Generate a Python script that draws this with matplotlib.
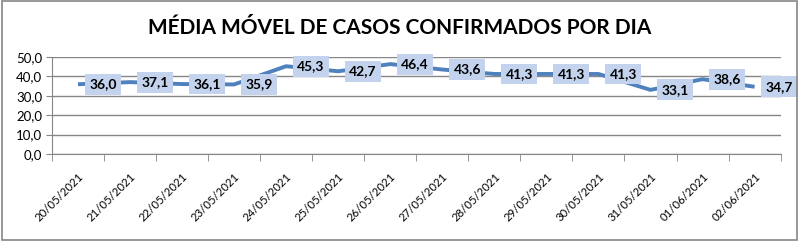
import matplotlib
matplotlib.use('Agg')
import matplotlib.pyplot as plt
from matplotlib.patches import Rectangle

plt.rcParams['font.family'] = ['Lato', 'DejaVu Sans']

dates = ['20/05/2021', '21/05/2021', '22/05/2021', '23/05/2021', '24/05/2021',
         '25/05/2021', '26/05/2021', '27/05/2021', '28/05/2021', '29/05/2021',
         '30/05/2021', '31/05/2021', '01/06/2021', '02/06/2021']
media = [36.0, 37.1, 36.1, 35.9, 45.3, 42.7, 46.4, 43.6, 41.3, 41.3, 41.3, 33.1, 38.6, 34.7]
yticks = [0, 10, 20, 30, 40, 50]

fig = plt.figure(figsize=(7.99, 2.41), dpi=100)
ax = fig.add_axes([0.065, 0.361, 0.912, 0.402])

x = list(range(len(dates)))
ax.plot(x, media, color='#4F81BD', lw=2.8, solid_capstyle='butt', zorder=3)

for xi, v in zip(x, media):
    ax.annotate(f'{v:.1f}'.replace('.', ','), (xi, v), xytext=(8, 0),
                textcoords='offset points', ha='left', va='center',
                fontsize=10, fontweight='bold', color='black', zorder=4,
                bbox=dict(boxstyle='square,pad=0.32', fc='#C3D3EE', ec='none'))

ax.set_xlim(-0.5, len(dates) - 0.5)
ax.set_ylim(0, 50)
ax.set_yticks(yticks)
ax.set_yticklabels([f'{t:.1f}'.replace('.', ',') for t in yticks], fontsize=9.5)
ax.yaxis.grid(True, color='#868686', lw=1)
ax.set_axisbelow(True)

ax.set_xticks(x)
ax.set_xticklabels(dates, rotation=45, ha='right', rotation_mode='anchor', fontsize=8.2)
ax.tick_params(axis='x', which='major', length=0, pad=12)
ax.set_xticks([i - 0.5 for i in range(len(dates) + 1)], minor=True)
ax.tick_params(axis='x', which='minor', length=5, color='#868686')
ax.tick_params(axis='y', length=4, color='#868686', pad=3)

for s in ['top', 'right']:
    ax.spines[s].set_visible(False)
for s in ['left', 'bottom']:
    ax.spines[s].set_color('#868686')

fig.text(0.5, 0.885, 'MÉDIA MÓVEL DE CASOS CONFIRMADOS POR DIA', ha='center', va='center',
         fontsize=15, fontweight='bold')

fig.patches.append(Rectangle((0.002, 0.004), 0.996, 0.99, transform=fig.transFigure,
                             fill=False, ec='#868686', lw=1.2))

fig.savefig('out.png', dpi=100)
